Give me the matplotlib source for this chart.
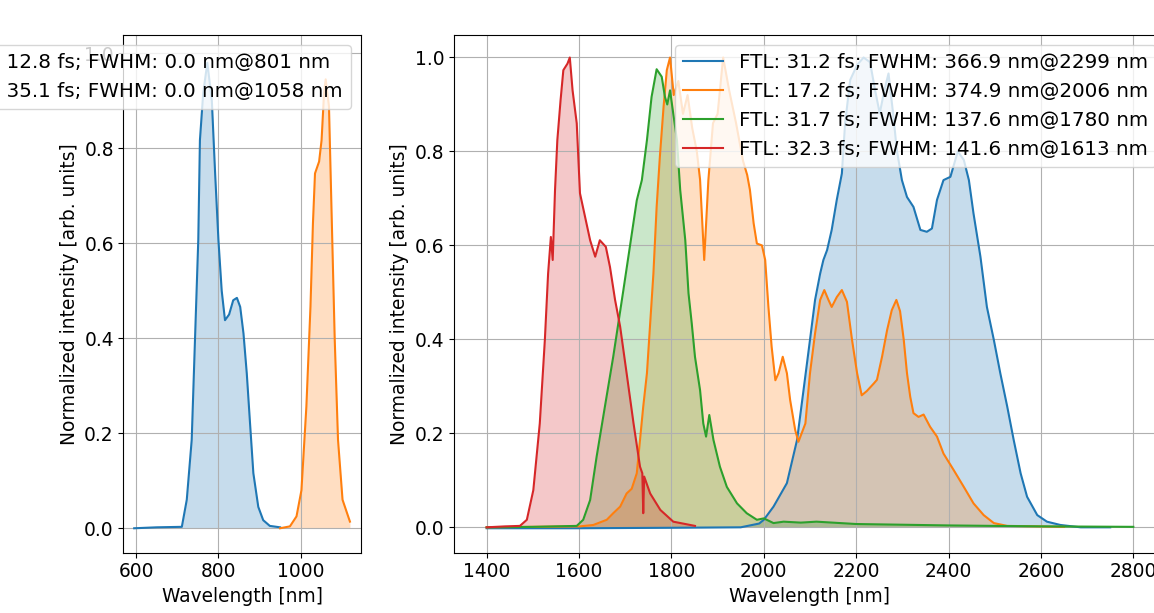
""" Normalized spectra of the seed (left) and of the converted pulses (right),
with FTL / FWHM per trace in the legend.
"""
import matplotlib
matplotlib.use("Agg")
import matplotlib.pyplot as plt

# --- left panel: seed spectra ---
seed_labels = ["FTL: 12.8 fs; FWHM: 0.0 nm@801 nm",
               "FTL: 35.1 fs; FWHM: 0.0 nm@1058 nm"]

seed_a_wl = [595, 650, 711, 723, 735, 743, 751, 755, 763, 773, 784, 792, 800,
             808, 816, 826, 836, 845, 853, 861, 869, 877, 885, 897, 909, 925, 950]
seed_a_int = [0.0, 0.002, 0.003, 0.06, 0.186, 0.397, 0.607, 0.817, 0.916, 0.98,
              0.90, 0.747, 0.607, 0.50, 0.438, 0.45, 0.48, 0.485, 0.466, 0.41,
              0.326, 0.22, 0.116, 0.045, 0.017, 0.005, 0.002]

seed_b_wl = [950, 974, 990, 1002, 1014, 1024, 1030, 1035, 1045, 1051, 1057, 1061,
             1069, 1075, 1083, 1091, 1102, 1120]
seed_b_int = [0.0, 0.004, 0.025, 0.08, 0.256, 0.467, 0.642, 0.747, 0.772, 0.817,
              0.916, 0.945, 0.888, 0.677, 0.397, 0.186, 0.06, 0.014]

# --- right panel: converted spectra ---
ir_labels = ["FTL: 31.2 fs; FWHM: 366.9 nm@2299 nm",
             "FTL: 17.2 fs; FWHM: 374.9 nm@2006 nm",
             "FTL: 31.7 fs; FWHM: 137.6 nm@1780 nm",
             "FTL: 32.3 fs; FWHM: 141.6 nm@1613 nm"]

ir_a_wl = [1400, 1600, 1800, 1950, 1990, 2000, 2021, 2050, 2072, 2086, 2100, 2111,
           2122, 2129, 2137, 2147, 2158, 2169, 2176, 2187, 2202, 2216, 2230, 2241,
           2251, 2261, 2270, 2280, 2288, 2299, 2310, 2324, 2339, 2353, 2364, 2375,
           2389, 2404, 2420, 2433, 2444, 2454, 2469, 2483, 2498, 2512, 2527, 2541,
           2556, 2570, 2592, 2613, 2642, 2686, 2750]
ir_a_int = [-0.002, -0.002, -0.001, 0.0, 0.008, 0.016, 0.044, 0.094, 0.186, 0.292,
            0.399, 0.484, 0.54, 0.569, 0.59, 0.633, 0.697, 0.753, 0.86, 0.952,
            0.984, 1.0, 0.99, 0.93, 0.881, 0.93, 0.966, 0.88, 0.803, 0.739, 0.703,
            0.682, 0.633, 0.629, 0.636, 0.697, 0.739, 0.746, 0.8, 0.782, 0.739,
            0.668, 0.576, 0.469, 0.399, 0.328, 0.257, 0.186, 0.115, 0.065, 0.026,
            0.012, 0.005, 0.0, 0.0]

ir_b_wl = [1400, 1500, 1602, 1631, 1660, 1674, 1689, 1703, 1714, 1725, 1732, 1739,
           1747, 1754, 1761, 1768, 1775, 1783, 1790, 1797, 1805, 1815, 1825, 1835,
           1845, 1855, 1862, 1871, 1880, 1890, 1900, 1912, 1925, 1940, 1955, 1964,
           1970, 1978, 1985, 1996, 2003, 2010, 2017, 2025, 2032, 2041, 2050, 2057,
           2068, 2075, 2090, 2100, 2111, 2122, 2131, 2140, 2147, 2158, 2169, 2180,
           2191, 2202, 2212, 2223, 2238, 2245, 2256, 2267, 2277, 2287, 2295, 2303,
           2310, 2317, 2324, 2335, 2346, 2360, 2375, 2389, 2411, 2433, 2454, 2476,
           2498, 2527, 2600, 2650]
ir_b_int = [0.0, 0.001, 0.002, 0.005, 0.016, 0.03, 0.044, 0.072, 0.082, 0.115,
            0.186, 0.257, 0.328, 0.434, 0.54, 0.682, 0.789, 0.895, 0.973, 1.0,
            0.92, 0.95, 0.88, 0.92, 0.85, 0.80, 0.74, 0.569, 0.739, 0.86, 0.88,
            1.0, 0.93, 0.86, 0.78, 0.75, 0.718, 0.647, 0.604, 0.60, 0.569, 0.469,
            0.384, 0.313, 0.328, 0.363, 0.328, 0.271, 0.207, 0.182, 0.221, 0.328,
            0.413, 0.484, 0.505, 0.484, 0.469, 0.49, 0.505, 0.48, 0.399, 0.328,
            0.281, 0.29, 0.306, 0.314, 0.363, 0.42, 0.462, 0.484, 0.46, 0.399,
            0.328, 0.278, 0.243, 0.235, 0.24, 0.214, 0.193, 0.157, 0.122, 0.086,
            0.051, 0.026, 0.009, 0.003, 0.002, 0.001]

ir_c_wl = [1400, 1500, 1595, 1609, 1624, 1638, 1656, 1674, 1685, 1696, 1710, 1725,
           1736, 1747, 1757, 1768, 1779, 1786, 1791, 1797, 1812, 1819, 1830, 1837,
           1844, 1851, 1862, 1869, 1875, 1882, 1891, 1905, 1920, 1942, 1963, 1985,
           2000, 2021, 2043, 2080, 2114, 2200, 2400, 2600, 2800]
ir_c_int = [0.0, 0.001, 0.003, 0.016, 0.058, 0.15, 0.257, 0.363, 0.434, 0.505,
            0.597, 0.696, 0.739, 0.824, 0.916, 0.975, 0.959, 0.916, 0.90, 0.93,
            0.824, 0.718, 0.611, 0.498, 0.434, 0.363, 0.292, 0.221, 0.193, 0.239,
            0.186, 0.129, 0.086, 0.051, 0.03, 0.016, 0.019, 0.009, 0.012, 0.01,
            0.012, 0.007, 0.004, 0.002, 0.001]

ir_d_wl = [1400, 1440, 1472, 1487, 1501, 1515, 1526, 1533, 1539, 1543, 1548, 1553,
           1560, 1566, 1575, 1580, 1586, 1595, 1602, 1613, 1624, 1635, 1645, 1658,
           1667, 1678, 1689, 1703, 1718, 1732, 1737, 1739, 1741, 1754, 1776, 1804,
           1851]
ir_d_int = [0.0, 0.002, 0.003, 0.016, 0.079, 0.221, 0.399, 0.54, 0.618, 0.569,
            0.718, 0.824, 0.909, 0.973, 0.987, 1.0, 0.93, 0.86, 0.711, 0.661,
            0.611, 0.576, 0.611, 0.597, 0.554, 0.484, 0.427, 0.328, 0.221, 0.129,
            0.115, 0.03, 0.108, 0.072, 0.037, 0.012, 0.003]

colors = ["tab:blue", "tab:orange", "tab:green", "tab:red"]

plt.rcParams["font.family"] = ["DejaVu Sans"]
plt.rcParams["font.size"] = 13.4

fig = plt.figure(figsize=(11.54, 6.13), dpi=100)
ax1 = fig.add_axes([0.1070, 0.0984, 0.2055, 0.8446])
ax2 = fig.add_axes([0.3937, 0.0984, 0.6164, 0.8446])

seed = [(seed_a_wl, seed_a_int), (seed_b_wl, seed_b_int)]
for (wl, val), lab, c in zip(seed, seed_labels, colors):
    ax1.plot(wl, val, color=c, label=lab)
    ax1.fill_between(wl, val, color=c, alpha=0.25, linewidth=0)

ir = [(ir_a_wl, ir_a_int), (ir_b_wl, ir_b_int),
      (ir_c_wl, ir_c_int), (ir_d_wl, ir_d_int)]
for (wl, val), lab, c in zip(ir, ir_labels, colors):
    ax2.plot(wl, val, color=c, label=lab)
    ax2.fill_between(wl, val, color=c, alpha=0.25, linewidth=0)

ax1.set_xlim(569, 1146)
ax1.set_ylim(-0.0514, 1.0385)
ax1.set_xticks([600, 800, 1000])
ax2.set_xlim(1330, 2870)
ax2.set_ylim(-0.054, 1.048)
ax2.set_xticks(range(1400, 2801, 200))

for ax in (ax1, ax2):
    ax.set_yticks([0.0, 0.2, 0.4, 0.6, 0.8, 1.0])
    ax.grid(True)
    ax.set_xlabel("Wavelength [nm]")
    ax.set_ylabel("Normalized intensity [arb. units]")
    ax.legend(loc="upper right", fontsize=14.3)

plt.savefig("out.png", dpi=100)
